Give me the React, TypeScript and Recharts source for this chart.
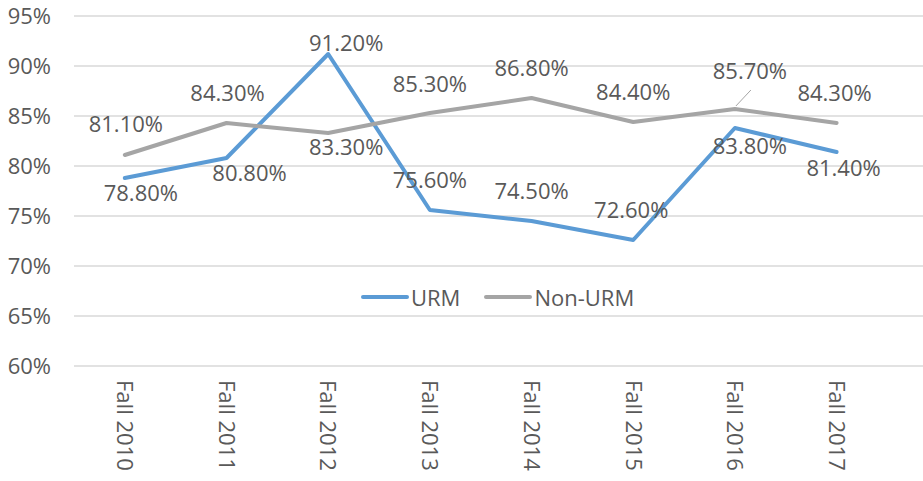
import { LineChart, Line, XAxis, YAxis, CartesianGrid, LabelList } from 'recharts';

// categories and values (percent)
const CATEGORIES = ['Fall 2010', 'Fall 2011', 'Fall 2012', 'Fall 2013', 'Fall 2014', 'Fall 2015', 'Fall 2016', 'Fall 2017'];
const URM = [78.8, 80.8, 91.2, 75.6, 74.5, 72.6, 83.8, 81.4];
const NON_URM = [81.1, 84.3, 83.3, 85.3, 86.8, 84.4, 85.7, 84.3];
const Y_TICKS = [60, 65, 70, 75, 80, 85, 90, 95];

// label placement (dx, dy from the point to the label centre), like the hand-moved Excel labels
const URM_LABEL_POS = [
  { dx: 16, dy: 15 }, { dx: 23, dy: 15 }, { dx: 18, dy: -11 }, { dx: 0, dy: -30 },
  { dx: 0, dy: -30 }, { dx: -2, dy: -30 }, { dx: 15, dy: 18 }, { dx: 7, dy: 16 },
];
const NON_URM_LABEL_POS = [
  { dx: 1, dy: -31 }, { dx: 1, dy: -30 }, { dx: 18, dy: 14 }, { dx: 0, dy: -29 },
  { dx: 0, dy: -30 }, { dx: 0, dy: -30 }, { dx: 15, dy: -38, leader: true }, { dx: -2, dy: -30 },
];

const data = CATEGORIES.map((name, i) => ({ i, name, urm: URM[i], nonUrm: NON_URM[i] }));

const TEXT = '#595959';
const BLUE = '#5B9BD5';
const GREY = '#A5A5A5';

function makeLabel(pos: { dx: number; dy: number; leader?: boolean }[]) {
  return (props: any) => {
    const { x, y, value, index } = props;
    const p = pos[index] || { dx: 0, dy: -30 };
    const cx = x + p.dx;
    const cy = y + p.dy;
    return (
      <g>
        {p.leader && <line x1={x + 1} y1={y - 3} x2={x + 16} y2={y - 19} stroke="#A5A5A5" strokeWidth={1} />}
        <text x={cx} y={cy + 8} textAnchor="middle" fill={TEXT} fontSize={22}>
          {Number(value).toFixed(2)}%
        </text>
      </g>
    );
  };
}

function XTick(props: any) {
  const { x, y, payload } = props;
  return (
    <text x={0} y={0} transform={`translate(${x},${y + 14}) rotate(90)`} textAnchor="start" dy="0.35em" fill={TEXT} fontSize={22}>
      {CATEGORIES[payload.value]}
    </text>
  );
}

// legend drawn as an overlay in the middle of the plot, as in the original
function ChartLegend() {
  const items = [
    { name: 'URM', color: BLUE },
    { name: 'Non-URM', color: GREY },
  ];
  return (
    <div style={{ position: 'absolute', left: 361, top: 284, display: 'flex', alignItems: 'center', gap: 24 }}>
      {items.map(it => (
        <div key={it.name} style={{ display: 'flex', alignItems: 'center' }}>
          <svg width={48} height={10}>
            <line x1={2} y1={5} x2={46} y2={5} stroke={it.color} strokeWidth={4} strokeLinecap="round" />
          </svg>
          <span style={{ color: TEXT, fontSize: 22, lineHeight: '26px', marginLeft: 2 }}>{it.name}</span>
        </div>
      ))}
    </div>
  );
}

export default function App() {
  return (
    <div style={{ position: 'absolute', left: 0, top: 0, width: 923, height: 481, background: '#fff', fontFamily: '"Open Sans", sans-serif' }}>
      <LineChart width={923} height={481} data={data} margin={{ top: 16, right: 0, left: 0, bottom: 0 }}>
        <CartesianGrid vertical={false} stroke="#D9D9D9" strokeWidth={1.3} />
        <XAxis
          dataKey="i"
          type="number"
          domain={[-0.5, 7.85]}
          ticks={[0, 1, 2, 3, 4, 5, 6, 7]}
          allowDataOverflow
          axisLine={false}
          tickLine={false}
          tickSize={0}
          tickMargin={0}
          height={115}
          interval={0}
          tick={<XTick />}
        />
        <YAxis
          domain={[60, 95]}
          ticks={Y_TICKS}
          width={74}
          axisLine={false}
          tickLine={false}
          tickSize={0}
          tickMargin={23}
          tick={{ fill: TEXT, fontSize: 22 }}
          tickFormatter={(v: number) => `${v}%`}
        />
        <Line
          dataKey="urm"
          name="URM"
          stroke={BLUE}
          strokeWidth={4}
          strokeLinecap="round"
          strokeLinejoin="round"
          dot={false}
          isAnimationActive={false}
        >
          <LabelList dataKey="urm" content={makeLabel(URM_LABEL_POS)} />
        </Line>
        <Line
          dataKey="nonUrm"
          name="Non-URM"
          stroke={GREY}
          strokeWidth={4}
          strokeLinecap="round"
          strokeLinejoin="round"
          dot={false}
          isAnimationActive={false}
        >
          <LabelList dataKey="nonUrm" content={makeLabel(NON_URM_LABEL_POS)} />
        </Line>
      </LineChart>
      <ChartLegend />
    </div>
  );
}
